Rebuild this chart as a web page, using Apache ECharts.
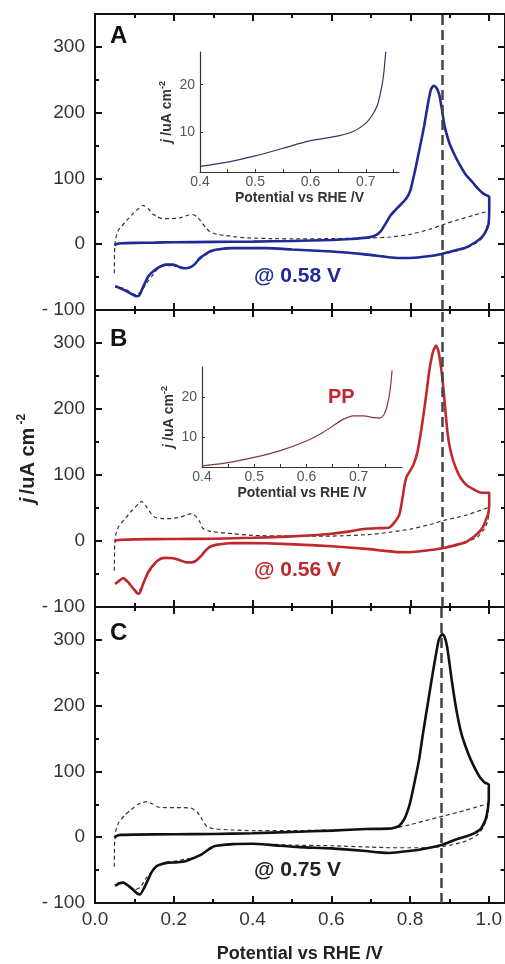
<!DOCTYPE html>
<html>
<head>
<meta charset="utf-8">
<script src="https://cdn.jsdelivr.net/npm/echarts@6/dist/echarts.min.js"></script>
<style>html,body{margin:0;padding:0;background:#fff;}#c{width:505px;height:964px;}</style>
</head>
<body>
<div id="c"></div>
<script>
// ---- tick positions / labels ----
const xMajor = [0, 0.2, 0.4, 0.6, 0.8, 1.0];
const xMinor = [0.1, 0.3, 0.5, 0.7, 0.9];
const yMajor = [-100, 0, 100, 200, 300];
const yMinor = [-50, 50, 150, 250];
const insetXLabels = [0.4, 0.5, 0.6, 0.7];
const insetXTicks = [0.45, 0.5, 0.55, 0.6, 0.65, 0.7, 0.75];
const insetYTicks = [10, 20];
const refPotential = [0.883];

// ---- panel A (blue) ----
const aSolid = [[0.05,-2],[0.055,0.5],[0.07,1.5],[0.1,2],[0.15,2.5],[0.2,3],[0.3,3.5],[0.4,4],[0.5,5],[0.6,6.5],[0.65,8],[0.69,10],[0.71,13],[0.725,20],[0.738,32],[0.75,44],[0.762,52],[0.775,60],[0.79,70],[0.8,82],[0.814,118],[0.825,150],[0.835,180],[0.845,215],[0.852,235],[0.859,241],[0.866,238],[0.873,228],[0.88,205],[0.886,182],[0.893,165],[0.9,152],[0.912,136],[0.924,122],[0.94,106],[0.958,94],[0.972,84],[0.985,77],[0.995,74],[1.0,72],
  [1.0,55],[0.998,30],[0.99,18],[0.98,10],[0.965,3],[0.941,-5],[0.91,-10],[0.884,-14],[0.85,-18],[0.8,-21],[0.76,-20.5],[0.73,-18.5],[0.68,-15],[0.6,-11],[0.5,-8],[0.434,-6],[0.35,-6],[0.31,-8],[0.291,-11],[0.278,-16],[0.266,-21],[0.255,-29],[0.245,-34],[0.232,-36.5],[0.22,-36],[0.198,-31],[0.18,-31],[0.165,-34],[0.15,-40],[0.135,-49],[0.122,-65],[0.112,-78],[0.105,-79],[0.097,-77],[0.085,-73],[0.072,-69],[0.06,-66],[0.051,-64]];
const aDash = [[0.049,-44],[0.05,-5],[0.053,10],[0.06,22],[0.068,28],[0.08,36],[0.097,47],[0.11,54],[0.122,59],[0.135,54],[0.147,46],[0.157,42],[0.17,39],[0.19,39],[0.215,40],[0.235,44],[0.249,45],[0.258,42],[0.266,37],[0.28,26],[0.291,19],[0.31,15],[0.333,13],[0.36,11],[0.392,9.5],[0.45,8.5],[0.5,8],[0.6,8.5],[0.7,9.5],[0.75,11],[0.8,15],[0.85,23],[0.884,30],[0.92,37],[0.96,44],[0.99,49],[1.0,50],
  [0.999,38],[0.995,28],[0.983,10],[0.965,1],[0.941,-6],[0.91,-11],[0.884,-15],[0.85,-18],[0.8,-21],[0.75,-20],[0.7,-17],[0.6,-11],[0.5,-8],[0.434,-6],[0.35,-6],[0.3,-10],[0.275,-18],[0.26,-26],[0.245,-34],[0.232,-36],[0.215,-34],[0.198,-33],[0.18,-32],[0.16,-37],[0.145,-48],[0.131,-59],[0.118,-71],[0.105,-77],[0.095,-75],[0.085,-71],[0.072,-67],[0.06,-65],[0.051,-65]];
const aInset = [[0.4,2.8],[0.45,3.7],[0.5,5],[0.55,6.6],[0.6,8.2],[0.65,9.2],[0.68,10.3],[0.7,11.9],[0.71,13.3],[0.72,15.4],[0.727,18.5],[0.732,22],[0.736,27]];

// ---- panel B (red) ----
const bSolid = [[0.05,-1],[0.055,1],[0.07,2],[0.1,2.5],[0.2,3],[0.3,3.5],[0.4,5],[0.5,7],[0.6,11],[0.65,15],[0.685,18.5],[0.72,19.5],[0.745,20],[0.758,27],[0.772,40],[0.78,65],[0.785,84],[0.79,97],[0.797,104],[0.808,116],[0.818,135],[0.828,170],[0.839,216],[0.848,258],[0.857,286],[0.865,296],[0.871,288],[0.877,266],[0.882,242],[0.886,216],[0.89,190],[0.894,165],[0.9,142],[0.907,125],[0.917,108],[0.928,95],[0.942,85],[0.958,79],[0.975,74],[0.99,73],[1.0,73],
  [1.0,55],[0.997,40],[0.992,33],[0.985,22],[0.975,14],[0.96,6],[0.941,-1.5],[0.91,-7],[0.884,-10.5],[0.84,-14.5],[0.797,-17],[0.76,-16.5],[0.72,-14],[0.688,-12],[0.6,-8],[0.519,-5.5],[0.43,-3.5],[0.35,-3],[0.31,-5.5],[0.291,-9],[0.28,-15],[0.27,-22],[0.258,-29],[0.249,-32],[0.232,-32.5],[0.215,-29],[0.198,-26],[0.18,-25.5],[0.165,-27],[0.15,-35],[0.135,-47],[0.122,-65],[0.112,-80],[0.105,-78],[0.097,-72],[0.085,-63],[0.072,-56],[0.062,-60],[0.051,-65]];
const bDash = [[0.049,-45],[0.05,-5],[0.053,10],[0.06,22],[0.075,33],[0.095,47],[0.11,56],[0.118,60],[0.13,52],[0.142,42],[0.152,36],[0.17,34],[0.19,34],[0.215,36],[0.235,40],[0.245,41.5],[0.255,38],[0.265,30],[0.274,19],[0.29,15],[0.3,14],[0.35,11],[0.4,8.5],[0.5,7.5],[0.6,7.5],[0.7,10],[0.75,13.5],[0.8,18],[0.85,25],[0.884,31],[0.941,39],[0.98,47],[1.0,51],
  [0.999,40],[0.995,28],[0.985,16],[0.97,6],[0.941,-2],[0.91,-7],[0.884,-11],[0.84,-15],[0.797,-17],[0.75,-16],[0.7,-13],[0.6,-8],[0.5,-5],[0.43,-3.5],[0.35,-3],[0.3,-7],[0.28,-14],[0.265,-24],[0.25,-31],[0.235,-32],[0.215,-29],[0.198,-26],[0.18,-26],[0.16,-30],[0.145,-40],[0.13,-55],[0.118,-70],[0.108,-77],[0.098,-72],[0.085,-64],[0.072,-58],[0.06,-60],[0.051,-65]];
const bInset = [[0.4,2.8],[0.45,3.6],[0.5,4.9],[0.55,6.6],[0.6,9],[0.63,11],[0.65,12.7],[0.67,14.4],[0.69,15.3],[0.71,15.3],[0.725,14.9],[0.74,14.7],[0.748,15.5],[0.754,17.5],[0.76,21.5],[0.764,26.7]];

// ---- panel C (black) ----
const cSolid = [[0.05,-1],[0.055,2],[0.065,3.5],[0.1,4],[0.2,4.5],[0.3,5],[0.4,6],[0.5,8],[0.603,10],[0.688,12.5],[0.745,13],[0.76,14.5],[0.772,17],[0.785,27],[0.795,42],[0.802,57],[0.812,85],[0.823,118],[0.833,158],[0.844,199],[0.855,240],[0.865,275],[0.873,300],[0.882,309],[0.888,304],[0.894,290],[0.9,265],[0.907,234],[0.915,203],[0.924,174],[0.932,154],[0.941,138],[0.95,124],[0.958,113],[0.968,101],[0.979,90],[0.99,83],[1.0,80],
  [1.0,60],[0.998,45],[0.992,27],[0.985,18],[0.979,12],[0.96,5],[0.941,1],[0.91,-5],[0.884,-11],[0.84,-17],[0.797,-21],[0.747,-24],[0.72,-23],[0.688,-21],[0.6,-17],[0.519,-15],[0.45,-12],[0.401,-10],[0.35,-10.5],[0.308,-13],[0.295,-16],[0.283,-21],[0.268,-27],[0.253,-31],[0.232,-36],[0.21,-38],[0.182,-39],[0.168,-41],[0.156,-44],[0.145,-52],[0.135,-64],[0.124,-78],[0.114,-87],[0.106,-85],[0.097,-80],[0.085,-74],[0.072,-69],[0.062,-70],[0.051,-74]];
const cDash = [[0.049,-45],[0.05,-5],[0.053,10],[0.06,22],[0.075,33],[0.09,41],[0.11,50],[0.13,54],[0.145,51],[0.16,46],[0.18,45],[0.2,45],[0.225,45],[0.245,44],[0.26,38],[0.272,27],[0.283,17],[0.3,13],[0.35,11],[0.4,10],[0.5,10],[0.6,11],[0.7,12],[0.75,13],[0.8,19],[0.85,27],[0.884,32],[0.941,41],[0.98,48],[1.0,51],
  [0.999,40],[0.995,28],[0.985,14],[0.97,3],[0.941,-6],[0.91,-11],[0.884,-14],[0.84,-16],[0.8,-16],[0.75,-16],[0.7,-15],[0.6,-13],[0.5,-12],[0.4,-10],[0.35,-10],[0.3,-14],[0.285,-20],[0.27,-27],[0.25,-32],[0.232,-33],[0.21,-36],[0.18,-38],[0.16,-43],[0.145,-52],[0.13,-62],[0.115,-76],[0.1,-80],[0.085,-74],[0.072,-69],[0.06,-69],[0.051,-72]];

const panelLabels = ['A', 'B', 'C'];
const holdLabels = ['@ 0.58 V', '@ 0.56 V', '@ 0.75 V'];
const colors = ['#1f2a96', '#c0282d', '#111111'];
const insetColors = ['#33365e', '#86383a'];

// ---- build ----
const FONT = 'Liberation Sans, Arial, sans-serif';
const mainGrids = [
  {left: 95, top: 14, width: 411, height: 296},
  {left: 95, top: 310, width: 411, height: 297},
  {left: 95, top: 607, width: 411, height: 297}
];
const insetGrids = [
  {left: 200, top: 52, width: 199, height: 120},
  {left: 202, top: 367, width: 200, height: 100}
];
const grids = mainGrids.concat(insetGrids);
const xAxes = [], yAxes = [], series = [];
const lineStyle = {color: '#111', width: 2};

function xAx(g, pos, ticks, len, labels, extra) {
  return Object.assign({
    type: 'value', gridIndex: g, position: pos, min: 0, max: 1.04,
    axisLine: {show: true, onZero: false, lineStyle: lineStyle},
    axisTick: {show: true, inside: true, length: len, customValues: ticks, lineStyle: {color: '#111', width: 2}},
    axisLabel: labels ? {show: true, customValues: labels, margin: 7, color: '#333', fontSize: 19, fontFamily: FONT,
      formatter: v => v.toFixed(1)} : {show: false},
    splitLine: {show: false}
  }, extra || {});
}
function yAx(g, pos, ticks, len, labels, extra) {
  return Object.assign({
    type: 'value', gridIndex: g, position: pos, min: -100, max: 350,
    axisLine: {show: true, onZero: false, lineStyle: lineStyle},
    axisTick: {show: true, inside: true, length: len, customValues: ticks, lineStyle: {color: '#111', width: 2}},
    axisLabel: labels ? {show: true, customValues: labels, margin: 10, color: '#333', fontSize: 19, fontFamily: FONT,
      formatter: v => v < 0 ? '- ' + Math.abs(v) : String(v)} : {show: false},
    splitLine: {show: false}
  }, extra || {});
}

const solids = [aSolid, bSolid, cSolid];
const dashes = [aDash, bDash, cDash];
for (let g = 0; g < 3; g++) {
  const xi = xAxes.length, yi = yAxes.length;
  const xExtra = g === 2 ? {name: 'Potential vs RHE /V', nameLocation: 'middle', nameGap: 42, nameMoveOverlap: false,
    nameTextStyle: {fontSize: 18, fontWeight: 'bold', color: '#222', fontFamily: FONT}} : null;
  xAxes.push(xAx(g, 'bottom', xMajor, 7, g === 2 ? xMajor : null, xExtra));
  xAxes.push(xAx(g, 'bottom', xMinor, 4, null));
  xAxes.push(xAx(g, 'top', xMajor, 7, null));
  xAxes.push(xAx(g, 'top', xMinor, 4, null));
  const yExtra = g === 1 ? {name: '{i|j} {b|/uA cm} {s|-2}', nameLocation: 'middle', nameGap: 55, nameRotate: 90,
    nameMoveOverlap: false,
    nameTextStyle: {color: '#222', fontFamily: FONT, rich: {
      i: {fontSize: 20, fontWeight: 'bold', fontStyle: 'italic', color: '#222', fontFamily: FONT, lineHeight: 24},
      b: {fontSize: 20, fontWeight: 'bold', color: '#222', fontFamily: FONT, lineHeight: 24},
      s: {fontSize: 12, fontWeight: 'bold', color: '#222', fontFamily: FONT, verticalAlign: 'top', lineHeight: 24}
    }}} : null;
  yAxes.push(yAx(g, 'left', yMajor, 7, yMajor, yExtra));
  yAxes.push(yAx(g, 'left', yMinor, 4, null));
  yAxes.push(yAx(g, 'right', yMajor, 7, null));
  yAxes.push(yAx(g, 'right', yMinor, 4, null));

  series.push({
    type: 'line', xAxisIndex: xi, yAxisIndex: yi, data: dashes[g], showSymbol: false, smooth: 0.2,
    lineStyle: {color: '#333', width: 1.2, type: [4, 3]}, z: 3, silent: true,
    markLine: {silent: true, symbol: ['none', 'none'], label: {show: false},
      lineStyle: {color: '#444', width: 2.5, type: [10, 5]},
      data: refPotential.map(v => ({xAxis: v}))}
  });
  series.push({
    type: 'line', xAxisIndex: xi, yAxisIndex: yi, data: solids[g], showSymbol: false, smooth: 0.2,
    lineStyle: {color: colors[g], width: 2.6}, z: 4, silent: true
  });
}

// insets
const insetData = [aInset, bInset];
const insetXMax = [0.76, 0.783];
const insetYRange = [[1.6, 26.9], [2.5, 27.5]];
const insetNameGap = [24, 24];
for (let k = 0; k < 2; k++) {
  const g = 3 + k;
  const xi = xAxes.length, yi = yAxes.length;
  xAxes.push({
    type: 'value', gridIndex: g, position: 'bottom', min: 0.4, max: insetXMax[k],
    axisLine: {show: true, onZero: false, lineStyle: {color: '#333', width: 1.2}},
    axisTick: {show: true, inside: true, length: 3, customValues: insetXTicks, lineStyle: {color: '#333', width: 1}},
    axisLabel: {show: true, customValues: insetXLabels, margin: 3, color: '#555', fontSize: 14, fontFamily: FONT,
      formatter: v => v.toFixed(1)},
    splitLine: {show: false},
    name: 'Potential vs RHE /V', nameLocation: 'middle', nameGap: 19,
    nameTextStyle: {fontSize: 14, fontWeight: 'bold', color: '#333', fontFamily: FONT}
  });
  yAxes.push({
    type: 'value', gridIndex: g, position: 'left', min: insetYRange[k][0], max: insetYRange[k][1],
    axisLine: {show: true, onZero: false, lineStyle: {color: '#333', width: 1.2}},
    axisTick: {show: true, inside: true, length: 3, customValues: insetYTicks, lineStyle: {color: '#333', width: 1}},
    axisLabel: {show: true, customValues: insetYTicks, margin: 5, color: '#555', fontSize: 14, fontFamily: FONT},
    splitLine: {show: false},
    name: '{i|j} {b|/uA cm}{s|-2}', nameLocation: 'middle', nameGap: insetNameGap[k], nameRotate: 90,
    nameTextStyle: {color: '#333', fontFamily: FONT, rich: {
      i: {fontSize: 14, fontWeight: 'bold', fontStyle: 'italic', color: '#333', fontFamily: FONT, lineHeight: 18},
      b: {fontSize: 14, fontWeight: 'bold', color: '#333', fontFamily: FONT, lineHeight: 18},
      s: {fontSize: 9, fontWeight: 'bold', color: '#333', fontFamily: FONT, verticalAlign: 'top', lineHeight: 18}
    }}
  });
  series.push({
    type: 'line', xAxisIndex: xi, yAxisIndex: yi, data: insetData[k], showSymbol: false, smooth: 0.3,
    lineStyle: {color: insetColors[k], width: 1.2}, silent: true
  });
}

const titles = [];
const letterTops = [24, 327, 621];
const holdTops = [266, 560, 860];
for (let g = 0; g < 3; g++) {
  titles.push({text: panelLabels[g], left: 110, top: letterTops[g],
    textStyle: {fontSize: 24, fontWeight: 'bold', color: '#111', fontFamily: FONT}});
  titles.push({text: holdLabels[g], left: 254, top: holdTops[g],
    textStyle: {fontSize: 21, fontWeight: 'bold', color: g === 2 ? '#222' : colors[g], fontFamily: FONT}});
}
titles.push({text: 'PP', left: 328, top: 387, textStyle: {fontSize: 20, fontWeight: 'bold', color: '#c0282d', fontFamily: FONT}});
titles.forEach(t => { t.padding = 0; });

const chart = echarts.init(document.getElementById('c'), null, {renderer: 'canvas'});
chart.setOption({
  animation: false,
  backgroundColor: '#fff',
  title: titles,
  grid: grids,
  xAxis: xAxes,
  yAxis: yAxes,
  series: series
});
</script>
</body>
</html>
